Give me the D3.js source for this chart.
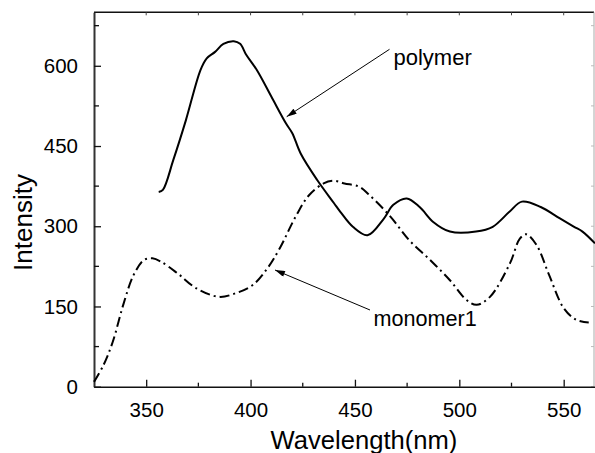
<!DOCTYPE html>
<html>
<head>
<meta charset="utf-8">
<script src="https://cdn.jsdelivr.net/npm/d3@7"></script>
<style>
  body { margin: 0; background: #fff; }
  text { font-family: "Liberation Sans", Arial, sans-serif; fill: #000; }
</style>
</head>
<body>
<script>
// data
var polymerWl = [356, 358, 363, 369, 376, 379, 383, 387, 392, 395, 398, 403, 410, 417, 420, 424, 432, 440, 443, 449, 456, 463.6, 468.4, 474.8, 481, 487.5, 495.5, 508, 516, 524, 530, 539, 548, 555, 559, 565];
var polymerVal = [364, 368, 424, 498, 592, 614, 626, 641, 646, 641, 620, 592, 542, 492, 474, 436, 386, 343, 327, 299, 283, 313, 340, 352, 336, 308, 290, 290, 299, 327, 346, 336, 315, 299, 290, 268];

var monomerWl = [325, 329.5, 334, 339, 344, 349, 353, 357, 365, 374, 385, 393, 401, 408, 414, 422, 428, 435, 440, 445, 452, 457, 467, 476, 486, 495.5, 503.5, 508.3, 514.7, 524.3, 529, 532, 537, 543, 550, 556, 562];
var monomerVal = [9, 40, 84, 153, 209, 237, 240, 234, 212, 184, 168, 175, 190, 221, 259, 321, 358, 380, 385, 380, 374, 358, 318, 274, 237, 199, 162, 153, 168, 231, 277, 285, 265, 209, 147, 125, 120];

var xTicks = [350, 400, 450, 500, 550];
var xMinor = [375, 425, 475, 525];
var yTicks = [0, 150, 300, 450, 600];
var yMinor = [75, 225, 375, 525, 675];

// set the dimensions and margins of the graph
var margin = { top: 12.3, right: 0, bottom: 66.3, left: 94 },
    width = 595 - margin.left - margin.right,
    height = 453 - margin.top - margin.bottom;

var svg = d3.select("body")
    .append("svg")
    .attr("width", 595)
    .attr("height", 453)
    .append("g")
    .attr("transform", "translate(" + margin.left + "," + margin.top + ")");

var x = d3.scaleLinear().domain([325, 565]).range([0, width]);
var y = d3.scaleLinear().domain([0, 700]).range([height, 0]);

var polymer = polymerWl.map(function (d, i) { return [d, polymerVal[i]]; });
var monomer = monomerWl.map(function (d, i) { return [d, monomerVal[i]]; });

var line = d3.line()
    .x(function (d) { return x(d[0]); })
    .y(function (d) { return y(d[1]); })
    .curve(d3.curveCatmullRom);

// frame: top and right in grey, ticks inward
svg.append("line").attr("x1", 0).attr("x2", width - 1).attr("y1", 0).attr("y2", 0)
    .attr("stroke", "#111").attr("stroke-width", 1.5);
svg.append("line").attr("x1", width - 1).attr("x2", width - 1).attr("y1", 0).attr("y2", height)
    .attr("stroke", "#aaa").attr("stroke-width", 1);

// top ticks
svg.selectAll(".ttick").data(xTicks.concat(xMinor)).enter().append("line")
    .attr("x1", function (d) { return x(d); }).attr("x2", function (d) { return x(d); })
    .attr("y1", 0).attr("y2", 3)
    .attr("stroke", "#444").attr("stroke-width", 1);
// right ticks
svg.selectAll(".rtick").data(yTicks.concat(yMinor)).enter().append("line")
    .attr("x1", width - 1).attr("x2", width - 4)
    .attr("y1", function (d) { return y(d); }).attr("y2", function (d) { return y(d); })
    .attr("stroke", "#bbb").attr("stroke-width", 1);

// bottom axis
var xAxis = svg.append("g")
    .attr("transform", "translate(0," + height + ")")
    .call(d3.axisBottom(x).tickValues(xTicks).tickSizeInner(-7).tickSizeOuter(0).tickPadding(16));
xAxis.select(".domain").attr("stroke", "#111").attr("stroke-width", 1.5);
xAxis.selectAll(".tick line").attr("stroke", "#111").attr("stroke-width", 1.3);
xAxis.selectAll("text").style("font-size", "20.5px").style("font-family", "Liberation Sans, Arial, sans-serif");
svg.selectAll(".bminor").data(xMinor).enter().append("line")
    .attr("x1", function (d) { return x(d); }).attr("x2", function (d) { return x(d); })
    .attr("y1", height).attr("y2", height - 4)
    .attr("stroke", "#111").attr("stroke-width", 1.3);

// left axis
var yAxis = svg.append("g")
    .call(d3.axisLeft(y).tickValues(yTicks).tickSizeInner(-7).tickSizeOuter(0).tickPadding(16));
yAxis.select(".domain").attr("stroke", "#333").attr("stroke-width", 2);
yAxis.selectAll(".tick line").attr("stroke", "#111").attr("stroke-width", 1.3);
yAxis.selectAll("text").style("font-size", "20.5px").style("font-family", "Liberation Sans, Arial, sans-serif");
svg.selectAll(".lminor").data(yMinor).enter().append("line")
    .attr("x1", 0).attr("x2", 5)
    .attr("y1", function (d) { return y(d); }).attr("y2", function (d) { return y(d); })
    .attr("stroke", "#111").attr("stroke-width", 1.3);

// curves
svg.append("path").datum(polymer)
    .attr("d", line)
    .attr("fill", "none").attr("stroke", "#000").attr("stroke-width", 2);
svg.append("path").datum(monomer)
    .attr("d", line)
    .attr("fill", "none").attr("stroke", "#000").attr("stroke-width", 2)
    .attr("stroke-dasharray", "10,4,2,4");

// arrows
svg.append("defs").append("marker")
    .attr("id", "head")
    .attr("viewBox", "0 0 10 6")
    .attr("refX", 10).attr("refY", 3)
    .attr("markerWidth", 12).attr("markerHeight", 6)
    .attr("markerUnits", "userSpaceOnUse")
    .attr("orient", "auto")
    .append("path").attr("d", "M0,0L10,3L0,6z").attr("fill", "#000");

svg.append("line")
    .attr("x1", 389.5 - margin.left).attr("y1", 49.3 - margin.top)
    .attr("x2", 286.7 - margin.left).attr("y2", 116.7 - margin.top)
    .attr("stroke", "#000").attr("stroke-width", 1)
    .attr("marker-end", "url(#head)");
svg.append("line")
    .attr("x1", 370 - margin.left).attr("y1", 310 - margin.top)
    .attr("x2", 275 - margin.left).attr("y2", 270 - margin.top)
    .attr("stroke", "#000").attr("stroke-width", 1)
    .attr("marker-end", "url(#head)");

svg.append("text").text("polymer")
    .attr("x", 393.5 - margin.left).attr("y", 65 - margin.top)
    .style("font-size", "22px");
svg.append("text").text("monomer1")
    .attr("x", 373.5 - margin.left).attr("y", 326 - margin.top)
    .style("font-size", "21.6px");

// axis titles
svg.append("text").text("Wavelength(nm)")
    .attr("x", 364 - margin.left).attr("y", 449 - margin.top)
    .attr("text-anchor", "middle")
    .style("font-size", "25.6px");
svg.append("text").text("Intensity")
    .attr("transform", "translate(" + (31.7 - margin.left) + "," + (222.5 - margin.top) + ")rotate(-90)")
    .attr("text-anchor", "middle")
    .style("font-size", "26px");
</script>
</body>
</html>
